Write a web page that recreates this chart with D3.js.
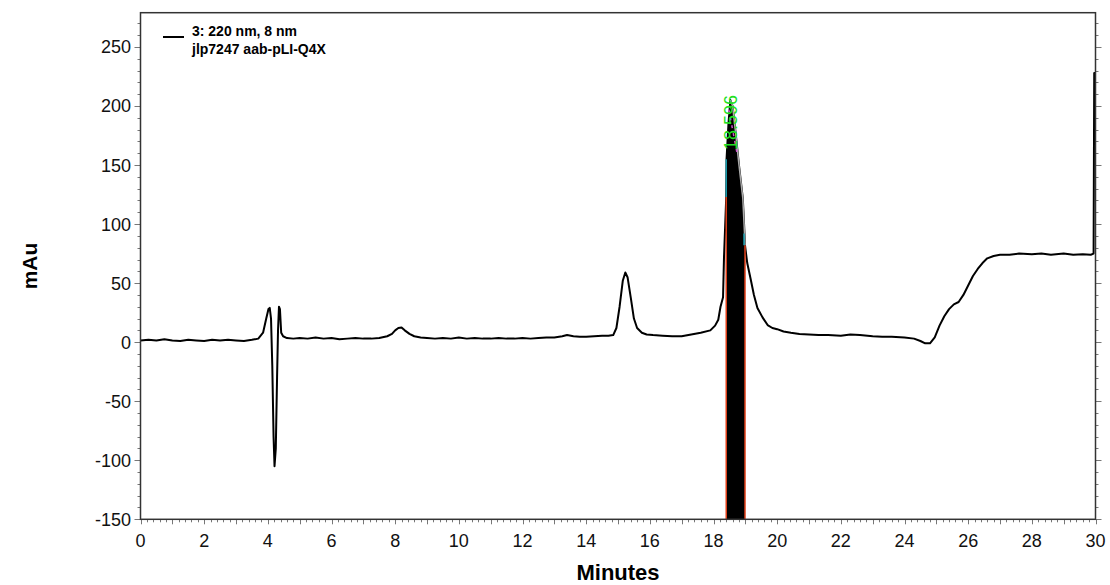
<!DOCTYPE html>
<html lang="en">
<head>
<meta charset="UTF-8" />
<script src="https://d3js.org/d3.v7.min.js"></script>
<style>
  body { margin: 0; background: #fff; }
  text { font-family: Arial, "Liberation Sans", sans-serif; }
</style>
</head>
<body>
<div id="chart"></div>
<script>
// chromatogram trace (minutes, mAu)
var times = [0,0.25,0.5,0.75,1,1.25,1.5,1.75,2,2.25,2.5,2.75,3,3.25,3.5,3.7,3.85,3.95,4.02,4.06,4.1,4.14,4.18,4.21,4.25,4.29,4.32,4.35,4.38,4.42,4.48,4.6,4.8,5,5.25,5.5,5.75,6,6.25,6.5,6.75,7,7.25,7.5,7.75,7.9,8.0,8.1,8.2,8.3,8.45,8.6,8.8,9,9.25,9.5,9.75,10,10.25,10.5,10.75,11,11.25,11.5,11.75,12,12.25,12.5,12.75,13,13.25,13.4,13.6,13.8,14,14.25,14.5,14.7,14.85,14.95,15.05,15.15,15.23,15.3,15.4,15.5,15.6,15.75,15.9,16.1,16.4,16.7,17,17.3,17.6,17.9,18.05,18.15,18.22,18.3,18.33,18.4,18.41,18.47,18.53,18.6,18.7,18.8,18.92,18.96,18.99,19.06,19.17,19.27,19.38,19.54,19.7,19.85,20,20.2,20.43,20.7,21,21.3,21.6,22,22.3,22.6,23,23.3,23.6,24,24.3,24.5,24.65,24.8,24.95,25.1,25.25,25.4,25.55,25.7,25.85,26,26.15,26.3,26.45,26.6,26.8,27,27.3,27.6,28,28.3,28.6,29,29.3,29.6,29.85,29.94,29.96,30];
var values = [1.5,2,1.5,2.5,1.5,1,2,1.5,1,2,1.5,2,1.5,1,2,3,8,20,28,29,20,-20,-80,-105,-90,-30,10,30,28,8,5,3.5,3,3.5,3,4,3,3.5,2.5,3,3.5,3,3,3.5,5,7,10,12,12.5,10,7,5,4,3.5,3,3.5,3,4,3,3.5,3,3,3.5,3,3,3.5,3,3.5,4,4,5,6,5,4.5,4.5,5,5.5,5.5,6,12,30,52,59,55,38,20,12,8,6.5,6,5.5,5,5,6.5,8,10,14,19,30,38,72,123,155,185,205,200,176,150,122,100,82,67,53,40,29,21,14.5,12,11,9,8,7,6.5,6,6,5.5,6.5,6,5,4.5,4.5,4,3,1,-1,-1,4,14,22,28,32,34,40,48,56,62,67,71,73,74,74,75,74.5,75,74,75,74,74.5,74,75,228,228];

// integrated peak window
var peakStart = 18.4, peakEnd = 18.99;
var peakLabel = "18.596";

var xTicks = [0,2,4,6,8,10,12,14,16,18,20,22,24,26,28,30];
var yTicks = [-150,-100,-50,0,50,100,150,200,250];

var legendLines = ["3: 220 nm, 8 nm", "jlp7247 aab-pLI-Q4X"];

var W = 1110, H = 585;
var plotL = 140.5, plotR = 1095.5, plotT = 12.7, plotB = 519.3;

var svg = d3.select("#chart").append("svg")
  .attr("width", W).attr("height", H);

var x = d3.scaleLinear().domain([0, 30]).range([plotL, plotR]);
var y = d3.scaleLinear().domain([-150, 279]).range([plotB, plotT]);

var data = times.map(function(t, i) { return { t: t, v: values[i] }; });

// minor ticks
var xMinor = d3.range(0, 30.001, 0.2);
svg.append("g").selectAll("line").data(xMinor).enter().append("line")
  .attr("x1", d => Math.round(x(d)) + 0.5).attr("x2", d => Math.round(x(d)) + 0.5)
  .attr("y1", plotB).attr("y2", d => plotB + (Math.abs(d - Math.round(d)) < 0.01 ? 5 : 3))
  .attr("stroke", "#777").attr("stroke-width", 1);

var yMinor = d3.range(-150, 279, 10);
[plotL, plotR].forEach(function(ex, k) {
  var dir = k === 0 ? -1 : 1;
  svg.append("g").selectAll("line").data(yMinor).enter().append("line")
    .attr("x1", ex).attr("x2", d => ex + dir * (d % 50 === 0 ? 6 : 3))
    .attr("y1", d => Math.round(y(d)) + 0.5).attr("y2", d => Math.round(y(d)) + 0.5)
    .attr("stroke", "#777").attr("stroke-width", 1);
});

// tick labels
svg.append("g").selectAll("text").data(yTicks).enter().append("text")
  .attr("x", 131).attr("y", d => y(d) + 6.5)
  .attr("text-anchor", "end").attr("font-size", 18).attr("fill", "#111")
  .text(d => d);

svg.append("g").selectAll("text").data(xTicks).enter().append("text")
  .attr("x", d => x(d)).attr("y", 547)
  .attr("text-anchor", "middle").attr("font-size", 18).attr("fill", "#111")
  .text(d => d);

// axis titles
svg.append("text")
  .attr("transform", "translate(37," + ((plotT + plotB) / 2) + ") rotate(-90)")
  .attr("text-anchor", "middle").attr("font-size", 21).attr("font-weight", "bold")
  .text("mAu");

svg.append("text")
  .attr("x", (plotL + plotR) / 2).attr("y", 580)
  .attr("text-anchor", "middle").attr("font-size", 22).attr("font-weight", "bold")
  .text("Minutes");

svg.append("clipPath").attr("id", "clip").append("rect")
  .attr("x", plotL).attr("y", plotT).attr("width", plotR - plotL).attr("height", plotB - plotT);
var plot = svg.append("g").attr("clip-path", "url(#clip)");

// filled integrated peak
var peakData = data.filter(d => d.t >= peakStart && d.t <= peakEnd);
var area = d3.area().x(d => x(d.t)).y0(y(-150)).y1(d => y(d.v));
plot.append("path").datum(peakData)
  .attr("d", area).attr("fill", "#000");

// trace
var line = d3.line().x(d => x(d.t)).y(d => y(d.v));
plot.append("path").datum(data)
  .attr("d", line).attr("fill", "none")
  .attr("stroke", "#000").attr("stroke-width", 2).attr("stroke-linejoin", "round");

// right flank of the peak drawn grey inside the fill
var flank = data.filter(d => d.t >= 18.53 && d.t <= peakEnd);
plot.append("path").datum(flank)
  .attr("d", line).attr("fill", "none")
  .attr("stroke", "#aaa").attr("stroke-width", 1.5);

// peak start / end markers
var vStart = values[times.indexOf(peakStart)], vEnd = values[times.indexOf(peakEnd)];
plot.append("line")
  .attr("x1", x(peakStart)).attr("x2", x(peakStart))
  .attr("y1", y(-150)).attr("y2", y(vStart))
  .attr("stroke", "#e0401a").attr("stroke-width", 1.5);
plot.append("line")
  .attr("x1", x(peakStart)).attr("x2", x(peakStart))
  .attr("y1", y(vStart)).attr("y2", y(155))
  .attr("stroke", "#1a9fb0").attr("stroke-width", 1.5);
plot.append("line")
  .attr("x1", x(peakEnd)).attr("x2", x(peakEnd))
  .attr("y1", y(-150)).attr("y2", y(vEnd))
  .attr("stroke", "#e0401a").attr("stroke-width", 1.5);
plot.append("line")
  .attr("x1", x(peakEnd) - 1).attr("x2", x(peakEnd) - 1)
  .attr("y1", y(vEnd)).attr("y2", y(92))
  .attr("stroke", "#1a9fb0").attr("stroke-width", 1.5);

// integration marker dashes
plot.append("line")
  .attr("x1", x(18.48)).attr("y1", y(197))
  .attr("x2", x(18.74)).attr("y2", y(160))
  .attr("stroke", "#d050d0").attr("stroke-width", 1.5)
  .attr("stroke-dasharray", "3,5");

// retention time label (reads bottom to top, ends at the peak tip)
svg.append("text")
  .attr("transform", "translate(" + (x(18.53) + 7) + ",95) rotate(-90)")
  .attr("text-anchor", "end").attr("font-size", 18).attr("fill", "#22e022")
  .text(peakLabel);

// frame
svg.append("rect")
  .attr("x", plotL).attr("y", plotT).attr("width", plotR - plotL).attr("height", plotB - plotT)
  .attr("fill", "none").attr("stroke", "#333").attr("stroke-width", 1.5);

// legend
svg.append("line")
  .attr("x1", 163).attr("x2", 184).attr("y1", 37).attr("y2", 37)
  .attr("stroke", "#000").attr("stroke-width", 2);
svg.append("g").selectAll("text").data(legendLines).enter().append("text")
  .attr("x", 192).attr("y", (d, i) => 36 + i * 18)
  .attr("font-size", 14).attr("font-weight", "bold")
  .text(d => d);
</script>
</body>
</html>
